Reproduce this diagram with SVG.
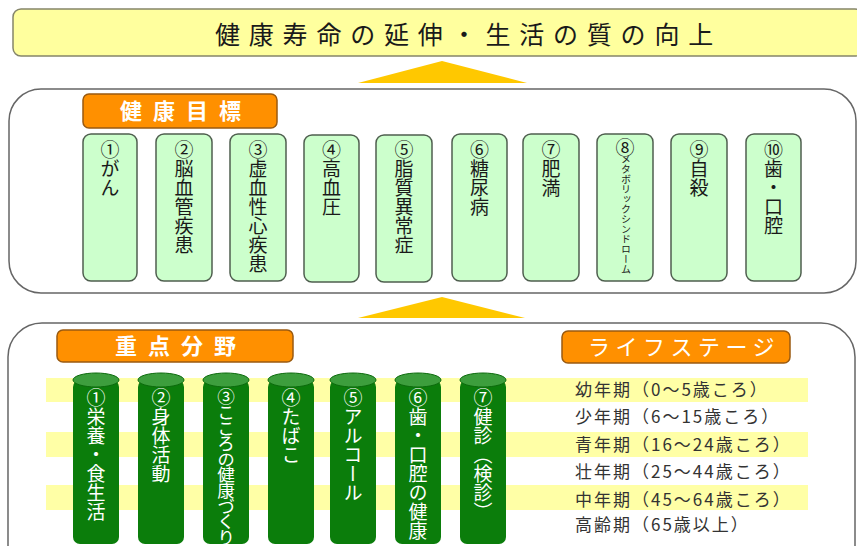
<svg xmlns="http://www.w3.org/2000/svg" width="857" height="546" viewBox="0 0 857 546">
<defs>
<style>
.jp{font-family:"Noto Sans CJK JP","Noto Sans CJK SC",sans-serif}
.title{font-size:25px;fill:#1a1a1a;letter-spacing:8.8px}
.panel{fill:#fff;stroke:#666;stroke-width:1.5}
.olabel{fill:#ff9000;stroke:#9a5a10;stroke-width:1.5}
.olbl{font-size:22px;fill:#fff;font-weight:bold;letter-spacing:11px}
.goal{fill:#ccffcc;stroke:#4f5f4f;stroke-width:1.5}
.vt{writing-mode:vertical-rl;font-size:19px;fill:#1a1a1a}
.vw{writing-mode:vertical-rl;font-size:19px;fill:#fff}
.cyl{fill:#0b7d0b}
.cyltop{fill:#3d9e3d;stroke:#0b6a0b;stroke-width:1}
.stripe{fill:#ffffa6}
.stage{font-size:17px;fill:#333;letter-spacing:2px}
.tri{fill:#ffc800}
</style>
</defs>

<g id="goal-banner">
<rect x="13" y="9" width="850" height="47" rx="8" fill="#ffff9e" stroke="#85856a" stroke-width="1.5"/>
<text class="jp title" x="215" y="44">健康寿命の延伸・生活の質の向上</text>
</g>

<g id="connectors">
<polygon class="tri" points="358,83 442,61 527,83"/>
<polygon class="tri" points="358,318 442,297 525,318"/>
</g>

<g id="health-goals">
<rect class="panel" x="9" y="89" width="847" height="204" rx="32"/>
<g id="health-goals-label">
<rect class="olabel" x="83" y="94" width="194" height="34" rx="6"/>
<text class="jp olbl" x="120" y="119">健康目標</text>
</g>
<g id="goal1"><rect class="goal" x="83" y="134" width="54" height="147" rx="8"/><text class="jp vt" x="110" y="140">①がん</text></g>
<g id="goal2"><rect class="goal" x="156" y="134" width="56" height="147" rx="8"/><text class="jp vt" x="184" y="140">②脳血管疾患</text></g>
<g id="goal3"><rect class="goal" x="230" y="134" width="56" height="147" rx="8"/><text class="jp vt" x="258" y="140">③虚血性心疾患</text></g>
<g id="goal4"><rect class="goal" x="304" y="135" width="55" height="147" rx="8"/><text class="jp vt" x="331.5" y="140">④高血圧</text></g>
<g id="goal5"><rect class="goal" x="376" y="135" width="56" height="147" rx="8"/><text class="jp vt" x="404" y="140">⑤脂質異常症</text></g>
<g id="goal6"><rect class="goal" x="452" y="134" width="55" height="147" rx="8"/><text class="jp vt" x="479.5" y="140">⑥糖尿病</text></g>
<g id="goal7"><rect class="goal" x="523" y="134" width="56" height="147" rx="8"/><text class="jp vt" x="551" y="140">⑦肥満</text></g>
<g id="goal8"><rect class="goal" x="597" y="134" width="56" height="147" rx="8"/><text class="jp vt" x="625" y="138">⑧</text><text class="jp" style="writing-mode:vertical-rl;font-size:10px;fill:#1a1a1a" x="626" y="154">メタボリックシンドローム</text></g>
<g id="goal9"><rect class="goal" x="671" y="134" width="56" height="147" rx="8"/><text class="jp vt" x="699" y="140">⑨自殺</text></g>
<g id="goal10"><rect class="goal" x="746" y="134" width="55" height="147" rx="8"/><text class="jp vt" x="773.5" y="140">⑩歯・口腔</text></g>
</g>

<g id="priority">
<rect class="panel" x="8" y="323" width="847" height="260" rx="34"/>
<g id="priority-label">
<rect class="olabel" x="57" y="330" width="236" height="32" rx="6"/>
<text class="jp olbl" x="115" y="354">重点分野</text>
</g>
<g id="lifestage-label">
<rect class="olabel" x="562" y="331" width="228" height="32" rx="6"/>
<text class="jp" style="font-size:22px;fill:#fff;letter-spacing:5.5px" x="588" y="355">ライフステージ</text>
</g>
<g id="stripes">
<rect class="stripe" x="46" y="378" width="762" height="24"/>
<rect class="stripe" x="46" y="432" width="762" height="25"/>
<rect class="stripe" x="46" y="485" width="762" height="25"/>
</g>
<g id="field1"><rect class="cyl" x="73" y="380" width="46" height="164" rx="7"/><ellipse class="cyltop" cx="96" cy="380" rx="23" ry="7"/><text class="jp vw" x="96" y="388">①栄養・食生活</text></g>
<g id="field2"><rect class="cyl" x="138" y="380" width="46" height="164" rx="7"/><ellipse class="cyltop" cx="161" cy="380" rx="23" ry="7"/><text class="jp vw" x="161" y="388">②身体活動</text></g>
<g id="field3"><rect class="cyl" x="203" y="380" width="46" height="164" rx="7"/><ellipse class="cyltop" cx="226" cy="380" rx="23" ry="7"/><text class="jp vw" style="font-size:17.6px;letter-spacing:-2px" x="226" y="388">③こころの健康づくり</text></g>
<g id="field4"><rect class="cyl" x="268" y="380" width="46" height="164" rx="7"/><ellipse class="cyltop" cx="291" cy="380" rx="23" ry="7"/><text class="jp vw" x="291" y="388">④たばこ</text></g>
<g id="field5"><rect class="cyl" x="330" y="380" width="46" height="164" rx="7"/><ellipse class="cyltop" cx="353" cy="380" rx="23" ry="7"/><text class="jp vw" x="353" y="388">⑤アルコール</text></g>
<g id="field6"><rect class="cyl" x="395" y="380" width="46" height="164" rx="7"/><ellipse class="cyltop" cx="418" cy="380" rx="23" ry="7"/><text class="jp vw" x="418" y="388">⑥歯・口腔の健康</text></g>
<g id="field7"><rect class="cyl" x="460" y="380" width="46" height="164" rx="7"/><ellipse class="cyltop" cx="483" cy="380" rx="23" ry="7"/><text class="jp vw" x="483" y="388">⑦健診（検診）</text></g>
<g id="lifestages">
<text class="jp stage" x="575" y="396">幼年期（0〜5歳ころ）</text>
<text class="jp stage" x="575" y="423">少年期（6〜15歳ころ）</text>
<text class="jp stage" x="575" y="451">青年期（16〜24歳ころ）</text>
<text class="jp stage" x="575" y="478">壮年期（25〜44歳ころ）</text>
<text class="jp stage" x="575" y="506">中年期（45〜64歳ころ）</text>
<text class="jp stage" x="575" y="531">高齢期（65歳以上）</text>
</g>
</g>
</svg>
